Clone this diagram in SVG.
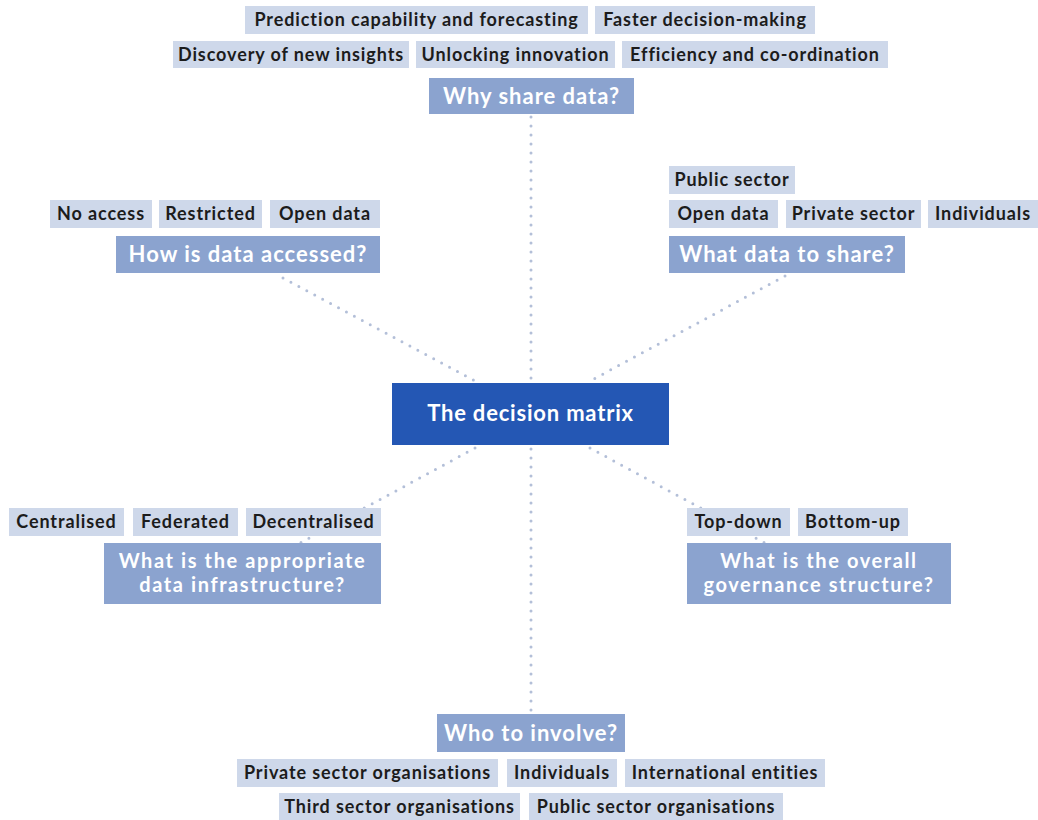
<svg xmlns="http://www.w3.org/2000/svg" width="1038" height="820" viewBox="0 0 1038 820">
  <style>
    .item rect { fill: #ced8ea; }
    .item text { font-family: "Lato", "Liberation Sans", sans-serif; font-weight: 700; font-size: 18px; letter-spacing: 0.9px; fill: #1c1c1c; text-anchor: middle; }
    .q rect { fill: #8ba3cf; }
    .q text { font-family: "Lato", "Liberation Sans", sans-serif; font-weight: 700; font-size: 22px; letter-spacing: 1px; fill: #ffffff; text-anchor: middle; }
    .q text.two { font-size: 20px; letter-spacing: 1.6px; }
    .hub rect { fill: #2457b4; }
    .hub text { font-family: "Lato", "Liberation Sans", sans-serif; font-weight: 700; font-size: 22px; letter-spacing: 0.8px; fill: #ffffff; text-anchor: middle; }
    .link { stroke: #b3bfd8; stroke-width: 3; stroke-linecap: round; stroke-dasharray: 0 9; fill: none; }
  </style>
  <rect width="1038" height="820" fill="#ffffff"/>

  <!-- dotted spokes from the hub -->
  <g id="connectors">
    <line class="link" x1="531" y1="117" x2="531" y2="380"/>
    <line class="link" x1="531" y1="449" x2="531" y2="712"/>
    <line class="link" x1="283" y1="278" x2="475" y2="381"/>
    <line class="link" x1="785" y1="276" x2="590" y2="381"/>
    <line class="link" x1="475" y1="448" x2="300" y2="543"/>
    <line class="link" x1="590" y1="448" x2="765" y2="543"/>
  </g>

  <!-- central hub -->
  <g id="hub" class="hub">
    <rect x="392" y="383" width="277" height="62"/>
    <text x="530.5" y="421">The decision matrix</text>
  </g>

  <!-- why share data -->
  <g id="why" class="q">
    <rect x="429" y="78" width="205" height="36"/>
    <text x="531.5" y="104">Why share data?</text>
  </g>
  <g id="why-items" class="item">
    <rect x="245" y="6" width="343" height="28"/><text x="416.5" y="26">Prediction capability and forecasting</text>
    <rect x="595" y="6" width="220" height="28"/><text x="705" y="26">Faster decision-making</text>
    <rect x="173" y="41" width="236" height="27"/><text x="291" y="61">Discovery of new insights</text>
    <rect x="416" y="41" width="199" height="27"/><text x="515.5" y="61">Unlocking innovation</text>
    <rect x="622" y="41" width="266" height="27"/><text x="755" y="61">Efficiency and co-ordination</text>
  </g>

  <!-- how is data accessed -->
  <g id="access" class="q">
    <rect x="116" y="236" width="264" height="37"/>
    <text x="248" y="262">How is data accessed?</text>
  </g>
  <g id="access-items" class="item">
    <rect x="50" y="200" width="102" height="28"/><text x="101" y="220">No access</text>
    <rect x="159" y="200" width="103" height="28"/><text x="210.5" y="220">Restricted</text>
    <rect x="270" y="200" width="110" height="28"/><text x="325" y="220">Open data</text>
  </g>

  <!-- what data to share -->
  <g id="what" class="q">
    <rect x="669" y="236" width="236" height="37"/>
    <text x="787" y="262">What data to share?</text>
  </g>
  <g id="what-items" class="item">
    <rect x="669" y="166" width="126" height="28"/><text x="732" y="186">Public sector</text>
    <rect x="669" y="200" width="109" height="28"/><text x="723.5" y="220">Open data</text>
    <rect x="786" y="200" width="135" height="28"/><text x="853.5" y="220">Private sector</text>
    <rect x="928" y="200" width="110" height="28"/><text x="983" y="220">Individuals</text>
  </g>

  <!-- data infrastructure -->
  <g id="infra" class="q">
    <rect x="104" y="543" width="277" height="61"/>
    <text class="two" x="242.5" y="568">What is the appropriate</text>
    <text class="two" x="242.5" y="592">data infrastructure?</text>
  </g>
  <g id="infra-items" class="item">
    <rect x="9" y="508" width="115" height="28"/><text x="66.5" y="528">Centralised</text>
    <rect x="133" y="508" width="105" height="28"/><text x="185.5" y="528">Federated</text>
    <rect x="246" y="508" width="135" height="28"/><text x="313.5" y="528">Decentralised</text>
  </g>

  <!-- governance structure -->
  <g id="governance" class="q">
    <rect x="687" y="543" width="264" height="61"/>
    <text class="two" x="819" y="568">What is the overall</text>
    <text class="two" x="819" y="592">governance structure?</text>
  </g>
  <g id="governance-items" class="item">
    <rect x="687" y="508" width="103" height="28"/><text x="738.5" y="528">Top-down</text>
    <rect x="798" y="508" width="110" height="28"/><text x="853" y="528">Bottom-up</text>
  </g>

  <!-- who to involve -->
  <g id="who" class="q">
    <rect x="437" y="714" width="188" height="38"/>
    <text x="531" y="741">Who to involve?</text>
  </g>
  <g id="who-items" class="item">
    <rect x="237" y="759" width="261" height="28"/><text x="367.5" y="779">Private sector organisations</text>
    <rect x="507" y="759" width="110" height="28"/><text x="562" y="779">Individuals</text>
    <rect x="625" y="759" width="200" height="28"/><text x="725" y="779">International entities</text>
    <rect x="279" y="793" width="241" height="27"/><text x="399.5" y="813">Third sector organisations</text>
    <rect x="529" y="793" width="254" height="27"/><text x="656" y="813">Public sector organisations</text>
  </g>
</svg>
